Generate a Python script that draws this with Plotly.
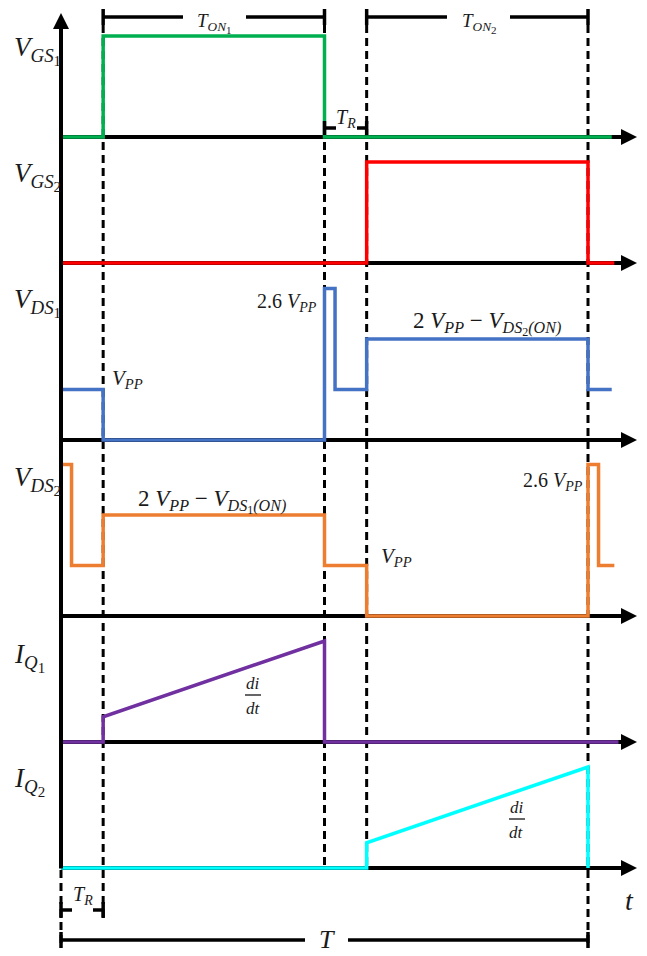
import plotly.graph_objects as go

# ---------------- data (normalised time units: T = 10, amplitudes in units of V_PP) -------------
T_R = 0.8
T_OFF1 = 5.0
T_ON2 = 5.8
T_PERIOD = 10.0
T_AXIS_END = 10.93

vgs1_t = [0, 0.8, 0.8, 5.0, 5.0, 10.45]
vgs1_v = [0, 0, 2, 2, 0, 0]

vgs2_t = [0, 5.8, 5.8, 10.0, 10.0, 10.5]
vgs2_v = [0, 0, 2, 2, 0, 0]

vds1_t = [0, 0.8, 0.8, 5.0, 5.0, 5.2, 5.2, 5.8, 5.8, 10.0, 10.0, 10.45]
vds1_v = [1, 1, 0, 0, 3, 3, 1, 1, 2, 2, 1, 1]

vds2_t = [0, 0.2, 0.2, 0.8, 0.8, 5.0, 5.0, 5.8, 5.8, 10.0, 10.0, 10.2, 10.2, 10.5]
vds2_v = [3, 3, 1, 1, 2, 2, 1, 1, 0, 0, 3, 3, 1, 1]

iq1_t = [0, 0.8, 0.8, 5.0, 5.0, 10.65]
iq1_v = [0, 0, 0.5, 2.0, 0, 0]

iq2_t = [0, 5.8, 5.8, 10.0, 10.0]
iq2_v = [0, 0, 0.5, 2.0, 0]


def ss(txt, size):
    """second-level subscript"""
    return f"<sub><span style='font-size:{size}px'>{txt}</span></sub>"


signal_names = ["V_GS1", "V_GS2", "V_DS1", "V_DS2", "I_Q1", "I_Q2"]
signal_labels = [
    "<i>V</i><sub><i>GS</i>" + ss("1", 15) + "</sub>",
    "<i>V</i><sub><i>GS</i>" + ss("2", 15) + "</sub>",
    "<i>V</i><sub><i>DS</i>" + ss("1", 15) + "</sub>",
    "<i>V</i><sub><i>DS</i>" + ss("2", 15) + "</sub>",
    "<i>I</i><sub><i>Q</i>" + ss("1", 15) + "</sub>",
    "<i>I</i><sub><i>Q</i>" + ss("2", 15) + "</sub>",
]
signal_t = [vgs1_t, vgs2_t, vds1_t, vds2_t, iq1_t, iq2_t]
signal_v = [vgs1_v, vgs2_v, vds1_v, vds2_v, iq1_v, iq2_v]
signal_colors = ["#00B050", "#FF0000", "#4472C4", "#ED7D31", "#7030A0", "#00FFFF"]

# ---------------- layout geometry (reference pixel coordinates) ----------------
PAGE_OFF = 8            # default body margin of the html page
W, H = 647 - PAGE_OFF, 956 - PAGE_OFF
X0_PX = 61.0
PX_PER_T = 52.7
PX_PER_V = 50.5
baselines = [137, 263, 440, 616, 742, 868]
row_tops = [PAGE_OFF, 150, 276, 453, 629, 755]
row_bottoms = [150, 276, 453, 629, 755, 881]
label_y = [50, 176, 302, 480, 657, 781]

FONT = "Liberation Serif"
TXT = "#1a1a1a"


def px2t(x):
    return (x - X0_PX) / PX_PER_T


def py(y):
    return 1 - (y - PAGE_OFF) / H


def pxp(x):
    return (x - PAGE_OFF) / W


fig = go.Figure()

layout_axes = {}
layout_axes["xaxis"] = dict(range=[px2t(PAGE_OFF), px2t(647)], domain=[0, 1], visible=False,
                            fixedrange=True, anchor="y6")
for k in range(6):
    b, tp, bt = baselines[k], row_tops[k], row_bottoms[k]
    name = "yaxis" if k == 0 else f"yaxis{k+1}"
    layout_axes[name] = dict(domain=[py(bt), py(tp)],
                             range=[-(bt - b) / PX_PER_V, (b - tp) / PX_PER_V],
                             visible=False, fixedrange=True, anchor="x")

# black time axes (under the coloured signals)
for k in range(6):
    yref = "y" if k == 0 else f"y{k+1}"
    fig.add_trace(go.Scatter(x=[0, 10.7], y=[0, 0], mode="lines",
                             line=dict(color="black", width=4),
                             xaxis="x", yaxis=yref, hoverinfo="skip", showlegend=False))

# signals
for k in range(6):
    yref = "y" if k == 0 else f"y{k+1}"
    fig.add_trace(go.Scatter(x=signal_t[k], y=signal_v[k], mode="lines", name=signal_names[k],
                             line=dict(color=signal_colors[k], width=3.5),
                             xaxis="x", yaxis=yref, hoverinfo="skip", showlegend=False))

shapes = []
annotations = []

# dashed guide lines
DASH = "8px,5px"
guides = [(0, 870, 948), (T_R, 25, 918), (T_OFF1, 25, 870), (T_ON2, 25, 870), (T_PERIOD, 25, 948)]
for tx, y_top, y_bot in guides:
    shapes.append(dict(type="line", xref="x", yref="paper", x0=tx, x1=tx,
                       y0=py(y_top), y1=py(y_bot), layer="below",
                       line=dict(color="black", width=3, dash=DASH)))

# arrowheads of the time axes
for k in range(6):
    yref = "y" if k == 0 else f"y{k+1}"
    annotations.append(dict(x=T_AXIS_END, y=0, xref="x", yref=yref, ax=10.55, ay=0,
                            axref="x", ayref=yref, text="", showarrow=True,
                            arrowhead=2, arrowsize=0.8, arrowwidth=4, arrowcolor="black",
                            standoff=0))

# vertical axis
annotations.append(dict(x=0, y=py(13), xref="x", yref="paper", ax=0, ay=870 - 13,
                        axref="pixel", ayref="pixel", text="", showarrow=True,
                        arrowhead=2, arrowsize=0.8, arrowwidth=4, arrowcolor="black",
                        standoff=0))


# brackets (with a gap for their label)
def bracket(t0, t1, y, cap_half, gap0_px, gap1_px):
    for a, b in ((t0, px2t(gap0_px)), (px2t(gap1_px), t1)):
        shapes.append(dict(type="line", xref="x", yref="paper", x0=a, x1=b, y0=py(y), y1=py(y),
                           line=dict(color="black", width=3.5)))
    for tx in (t0, t1):
        shapes.append(dict(type="line", xref="x", yref="paper", x0=tx, x1=tx,
                           y0=py(y - cap_half), y1=py(y + cap_half),
                           line=dict(color="black", width=3.5)))


bracket(T_R, T_OFF1, 17, 8, 183, 246)
bracket(T_ON2, T_PERIOD, 17, 8, 447, 510)
bracket(T_OFF1, T_ON2, 128, 7, 336, 357)
bracket(0, T_R, 910, 8, 72, 93)
bracket(0, T_PERIOD, 940, 8, 305, 348)


def text(s, x_px, y_px, size, xanchor="center", yanchor="middle"):
    annotations.append(dict(text=s, x=pxp(x_px), y=py(y_px), xref="paper", yref="paper",
                            showarrow=False, xanchor=xanchor, yanchor=yanchor,
                            font=dict(family=FONT, size=size, color=TXT)))


# bracket texts
text("<i>T</i><sub><i>ON</i>" + ss("1", 11) + "</sub>", 214, 8.5, 19, yanchor="top")
text("<i>T</i><sub><i>ON</i>" + ss("2", 11) + "</sub>", 479, 8.5, 19, yanchor="top")
text("<i>T</i><sub><i>R</i></sub>", 346, 118, 20)
text("<i>T</i><sub><i>R</i></sub>", 83, 895, 20)
text("<i>T</i>", 327, 955.5, 26, yanchor="bottom")
text("<i>t</i>", 629, 900, 28)

# signal labels
for k in range(6):
    text(signal_labels[k], 12, label_y[k], 27, xanchor="left")

# level annotations
text("<i>V</i><sub><i>PP</i></sub>", 110, 379, 21, xanchor="left")
text("2.6 <i>V</i><sub><i>PP</i></sub>", 319, 302, 20, xanchor="right")
text("2 <i>V</i><sub><i>PP</i></sub> − <i>V</i><sub><i>DS</i>" + ss("2", 12) + "<i>(ON)</i></sub>",
     487, 324, 23)
text("2 <i>V</i><sub><i>PP</i></sub> − <i>V</i><sub><i>DS</i>" + ss("1", 12) + "<i>(ON)</i></sub>",
     212, 502, 23)
text("<i>V</i><sub><i>PP</i></sub>", 379, 557, 21, xanchor="left")
text("2.6 <i>V</i><sub><i>PP</i></sub>", 585, 481, 20, xanchor="right")

# di/dt fractions
for cx, cy in [(253, 695), (517, 819)]:
    text("<i>di</i>", cx, cy - 12, 17)
    text("<i>dt</i>", cx, cy + 13, 17)
    shapes.append(dict(type="line", xref="paper", yref="paper", x0=pxp(cx - 8), x1=pxp(cx + 8),
                       y0=py(cy), y1=py(cy), line=dict(color="#333333", width=1.5)))

fig.update_layout(
    width=W, height=H,
    margin=dict(l=0, r=0, t=0, b=0),
    paper_bgcolor="white",
    plot_bgcolor="rgba(0,0,0,0)",
    showlegend=False,
    shapes=shapes,
    annotations=annotations,
    **layout_axes,
)

fig.write_html("out.html")
